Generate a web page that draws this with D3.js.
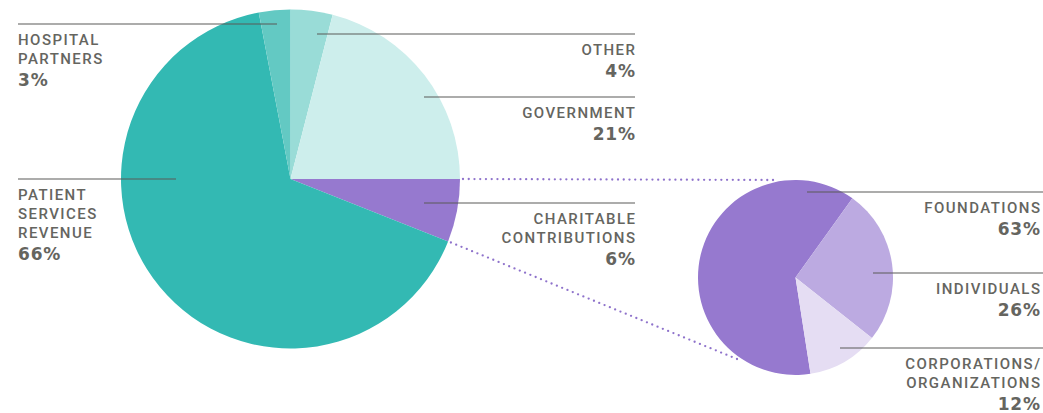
<!DOCTYPE html>
<html>
<head>
<meta charset="utf-8">
<script src="https://cdn.jsdelivr.net/npm/d3@7"></script>
<style>
  body { margin: 0; background: #fff; }
  text { fill: #65655f; }
  .name { font-family: Roboto, "Liberation Sans", sans-serif; font-size: 15px; font-weight: 500; letter-spacing: 1.45px; }
  .pct { font-family: "DejaVu Sans", sans-serif; font-size: 17px; font-weight: bold; letter-spacing: 0.8px; }
</style>
</head>
<body>
<svg id="chart" width="1043" height="413"></svg>
<script>
// revenue breakdown
const mainLabels = ["OTHER", "GOVERNMENT", "CHARITABLE CONTRIBUTIONS", "PATIENT SERVICES REVENUE", "HOSPITAL PARTNERS"];
const mainValues = [4, 21, 6, 66, 3];
const mainColors = ["#99dcd7", "#cdeeec", "#9679cf", "#33b9b3", "#63c9c3"];

// charitable contributions breakdown
const subLabels = ["FOUNDATIONS", "INDIVIDUALS", "CORPORATIONS/ ORGANIZATIONS"];
const subValues = [63, 26, 12];
const subColors = ["#9679cf", "#bcaae1", "#e5ddf3"];

// label layout: leader line y, line x0 / x1, text lines
const mainLayout = [
  {ly: 34, x0: 317, x1: 635, anchor: "end", lines: ["OTHER"]},
  {ly: 97, x0: 424, x1: 635, anchor: "end", lines: ["GOVERNMENT"]},
  {ly: 203, x0: 424, x1: 635, anchor: "end", lines: ["CHARITABLE", "CONTRIBUTIONS"]},
  {ly: 179, x0: 18, x1: 176, anchor: "start", lines: ["PATIENT", "SERVICES", "REVENUE"]},
  {ly: 24, x0: 18, x1: 277, anchor: "start", lines: ["HOSPITAL", "PARTNERS"]}
];
const subLayout = [
  {ly: 192, x0: 807, x1: 1043, anchor: "end", lines: ["FOUNDATIONS"]},
  {ly: 273, x0: 873, x1: 1043, anchor: "end", lines: ["INDIVIDUALS"]},
  {ly: 348, x0: 840, x1: 1043, anchor: "end", lines: ["CORPORATIONS/", "ORGANIZATIONS"]}
];

const svg = d3.select("#chart");
const rad = d => d * Math.PI / 180;

const mainC = {x: 290.5, y: 179, r: 169.5};
const subC = {x: 795.5, y: 277.5, r: 97.5};

// main pie
const mainPie = d3.pie().sort(null).value(d => d)(mainValues);
const mainArc = d3.arc().innerRadius(0).outerRadius(mainC.r);
svg.append("g")
  .attr("transform", `translate(${mainC.x},${mainC.y})`)
  .selectAll("path")
  .data(mainPie)
  .enter()
  .append("path")
  .attr("d", mainArc)
  .attr("fill", (d, i) => mainColors[i]);

// sub pie (foundations ends at ~36deg)
const subTotal = d3.sum(subValues);
const subStart = rad(35.7) - subValues[0] / subTotal * 2 * Math.PI;
const subPie = d3.pie().sort(null).value(d => d)
  .startAngle(subStart).endAngle(subStart + 2 * Math.PI)(subValues);
const subArc = d3.arc().innerRadius(0).outerRadius(subC.r);
svg.append("g")
  .attr("transform", `translate(${subC.x},${subC.y})`)
  .selectAll("path")
  .data(subPie)
  .enter()
  .append("path")
  .attr("d", subArc)
  .attr("fill", (d, i) => subColors[i]);

// dotted connectors from charitable slice to sub pie
const ch = mainPie[2];
const connectors = [
  {a: ch.startAngle, end: [773, 180]},
  {a: ch.endAngle, end: [737, 359]}
];
connectors.forEach(c => {
  const x0 = mainC.x + Math.sin(c.a) * (mainC.r + 3);
  const y0 = mainC.y - Math.cos(c.a) * (mainC.r + 3);
  const len = Math.hypot(c.end[0] - x0, c.end[1] - y0);
  const n = Math.round(len / 5.7);
  const pts = d3.range(n + 1).map(k => [x0 + (c.end[0] - x0) * k / n, y0 + (c.end[1] - y0) * k / n]);
  svg.append("g").selectAll("circle")
    .data(pts)
    .enter()
    .append("circle")
    .attr("cx", d => d[0])
    .attr("cy", d => d[1])
    .attr("r", 1.15)
    .attr("fill", "#8e72cb");
});

// labels
function drawLabels(layout, values) {
  layout.forEach((L, i) => {
    svg.append("line")
      .attr("x1", L.x0).attr("x2", L.x1)
      .attr("y1", L.ly).attr("y2", L.ly)
      .attr("stroke", "#5a5a58")
      .attr("stroke-width", 1.2);
    const tx = L.anchor === "end" ? L.x1 - (L.x1 > 1000 ? 3 : 0) : L.x0;
    L.lines.forEach((s, k) => {
      svg.append("text")
        .attr("class", "name")
        .attr("x", tx + (L.anchor === "end" ? 1.45 : 0))
        .attr("y", L.ly + 21 + k * 19)
        .attr("text-anchor", L.anchor)
        .text(s);
    });
    svg.append("text")
      .attr("class", "pct")
      .attr("x", tx + (L.anchor === "end" ? 0.8 : 0))
      .attr("y", L.ly + 21 + (L.lines.length - 1) * 19 + 22)
      .attr("text-anchor", L.anchor)
      .text(values[i] + "%");
  });
}
drawLabels(mainLayout, mainValues);
drawLabels(subLayout, subValues);
</script>
</body>
</html>
